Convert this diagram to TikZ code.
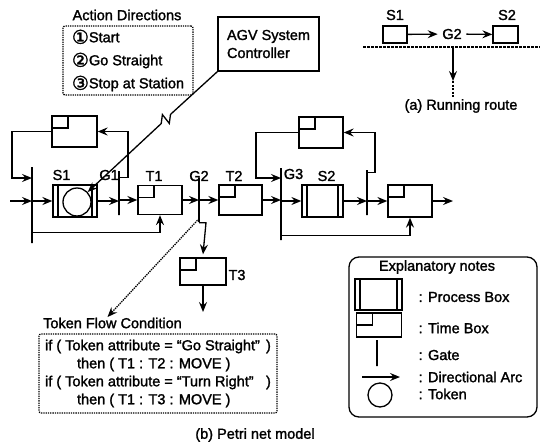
\documentclass[tikz,border=0pt]{standalone}
\usepackage{fontspec}
\setmainfont{Liberation Sans}[FakeBold=1.6]
\newfontfamily\dejavu{DejaVu Sans}[FakeBold=1.6]
\usetikzlibrary{arrows.meta}
\newcommand{\cnum}[1]{{\dejavu\fontsize{19pt}{23pt}\selectfont\raisebox{-1.5pt}{#1}}}
\begin{document}
\begin{tikzpicture}[x=1pt,y=-1pt,line width=1.3pt,
  font=\fontsize{14.5pt}{18pt}\selectfont,
  arc/.style={-{Stealth[length=10pt,width=8pt,inset=3.5pt]}},
  timebox/.style={draw,inner sep=0pt,minimum width=44pt,minimum height=30pt,
    path picture={\draw (path picture bounding box.north west) rectangle ++(16pt,-12pt);}},
  procbox/.style={draw,inner sep=0pt,minimum width=44pt,minimum height=32pt,
    path picture={\draw ([xshift=5pt]path picture bounding box.north west) -- ([xshift=5pt]path picture bounding box.south west)
      ([xshift=-5pt]path picture bounding box.north east) -- ([xshift=-5pt]path picture bounding box.south east);}},
  gate/.style={draw,inner sep=0pt,minimum width=0pt,minimum height=#1},
  lbl/.style={inner sep=0pt},
  dotbox/.style={draw,densely dotted,rounded corners=2pt,inner sep=0pt},
]
\useasboundingbox (0,0) rectangle (540,447);

% ---------- Action directions ----------
\node[lbl] (adt) at (127,15) {Action Directions};
\node[dotbox,minimum width=130pt,minimum height=69pt,align=left,
  font=\fontsize{14.5pt}{23pt}\selectfont] (ad) at (128,60.5)
  {\cnum{①}Start\\\cnum{②}Go Straight\\\cnum{③}Stop at Station};

% ---------- AGV controller ----------
\node[draw,minimum width=101pt,minimum height=54pt,inner sep=0pt,align=left] (agv) at (268.5,44)
  {AGV System\\Controller};

% ---------- (a) running route ----------
\node[lbl] (ra1l) at (395,15) {S1};
\node[draw,inner sep=0pt,minimum width=24pt,minimum height=17pt] (ra1) at (395,34.5) {};
\node[inner sep=4pt] (rg2) at (452,34) {G2};
\node[draw,inner sep=0pt,minimum width=25pt,minimum height=17pt] (ra2) at (505.5,34.5) {};
\node[lbl] (ra2l) at (507,15) {S2};
\draw[arc] (ra1) -- (rg2);
\draw[arc] (rg2) -- (ra2);
\coordinate (rl) at (363,47);
\coordinate (rr) at (540,47);
\coordinate (rj) at (453,47);
\coordinate (rk) at (453,81);
\coordinate (rd) at (453,97);
\draw[dash pattern=on 3pt off 1pt] (rl) -- (rr);
\draw[arc] (rj) -- (rk);
\draw[dash pattern=on 2pt off 1.5pt] (rk) -- (rd);
\node[lbl] (rac) at (461,106) {(a) Running route};

% ---------- Petri net main line ----------
\coordinate (in) at (10,201);
\coordinate (out) at (453,201);
\node[gate=76pt] (g0) at (32,205) {};
\node[procbox] (s1) at (75,201) {};
\node[circle,draw,minimum size=28pt,inner sep=0pt] (tok) at (77,202) {};
\node[gate=44pt] (g1) at (119,193) {};
\node[timebox,minimum height=29pt] (t1) at (160,200) {};
\node[gate=44pt] (g2) at (199,200) {};
\node[timebox,minimum width=43pt] (t2) at (240.5,200) {};
\node[gate=72pt] (g3) at (281,204) {};
\node[procbox,minimum width=41pt] (s2) at (322.5,201) {};
\node[gate=45pt] (g4) at (367,192.5) {};
\node[timebox,minimum height=32pt] (t4) at (410,201) {};
\node[timebox,minimum width=46pt,minimum height=27pt] (t3) at (203,271.5) {};

% loop boxes
\node[timebox,minimum width=45pt,minimum height=31pt] (l1) at (74.5,131.5) {};
\node[timebox,minimum height=31pt] (l2) at (321,132.5) {};

% labels
\node[lbl] (ls1) at (61.5,175) {S1};
\node[lbl] (lg1) at (109,175) {G1};
\node[lbl] (lt1) at (154,176) {T1};
\node[lbl] (lg2) at (199,176) {G2};
\node[lbl] (lt2) at (234,176) {T2};
\node[lbl] (lg3) at (293.5,174) {G3};
\node[lbl] (ls2) at (326.5,176) {S2};
\node[lbl] (lt3) at (237,275) {T3};

% main arcs
\draw[arc] (in) -- (in -| g0);
\draw[arc] (s1 -| g0) -- (s1);
\draw[arc] (s1) -- (s1 -| g1);
\draw[arc] (t1 -| g1) -- (t1);
\draw[arc] (t1) -- (t1 -| g2);
\draw[arc] (t2 -| g2) -- (t2);
\draw[arc] (t2) -- (t2 -| g3);
\draw[arc] (s2 -| g3) -- (s2);
\draw[arc] (s2) -- (s2 -| g4);
\draw[arc] (t4 -| g4) -- (t4);
\draw[arc] (t4) -- (out);

% loops
\coordinate (lp1) at (12,178);
\draw[arc] (l1.west) -| (lp1) -- (lp1 -| g0);
\draw[arc] ([yshift=-7pt]g1.north) -- ++(9pt,0) |- (l1.east);
\coordinate (lp2) at (256,178);
\draw[arc] (l2.west) -| (lp2) -- (lp2 -| g3);
\draw[arc] ([yshift=-3pt]g4.north) -- ++(8pt,0) |- (l2.east);

% bottom return lines
\draw[arc] ([yshift=11pt]g0.south) -| (t1.south);
\draw[arc] ([yshift=5pt]g3.south) -| (t4.south);

% branch to T3
\coordinate (t3o) at (203,312);
\draw[arc] (g2.south) -- ++(7pt,0) -- ([yshift=3pt]t3.north);
\draw[arc] (t3) -- (t3o);

% AGV link with break
\coordinate (za) at (170.5,114.4);
\coordinate (zb) at (169.3,123.4);
\coordinate (zc) at (162.4,114.6);
\coordinate (zd) at (161.2,123.6);
\draw[arc] (agv.south west) -- (za) -- (zb) -- (zc) -- (zd) -- (tok);

% ---------- Token flow condition ----------
\node[lbl] (tft) at (112.5,323) {Token Flow Condition};
\node[dotbox,minimum width=238pt,minimum height=79pt,align=left] (tfc) at (158,373.5)
  {\makebox[217pt][l]{if ( Token attribute = “Go Straight”} )\\
   \hspace*{32pt}then ( T1 : T2 : MOVE )\\
   \makebox[217pt][l]{if ( Token attribute = “Turn Right”} )\\
   \hspace*{32pt}then ( T1 : T3 : MOVE )};
\draw[densely dotted,arc] ([yshift=4pt]g2.south) -- ([xshift=-5pt]tft.north);

% ---------- Explanatory notes ----------
\node[draw,rounded corners=10pt,minimum width=188pt,minimum height=160pt] (en) at (443,337) {};
\node[lbl] (ent) at (437,267) {Explanatory notes};
\node[procbox,minimum width=47pt,minimum height=31pt] (ipb) at (378.5,294.5) {};
\node[timebox,minimum width=45pt,minimum height=24pt] (itb) at (379,325) {};
\node[gate=26pt] (ig) at (377,353) {};
\coordinate (ia1) at (362,377);
\coordinate (ia2) at (400,377);
\draw[arc] (ia1) -- (ia2);
\node[circle,draw,minimum size=24pt,inner sep=0pt] (itk) at (380,395) {};
\node[lbl,anchor=west] (epb) at (418,297) {: Process Box};
\node[lbl,anchor=west] (etb) at (418,328) {: Time Box};
\node[lbl,anchor=west] (eg) at (418,355) {: Gate};
\node[lbl,anchor=west] (ea) at (418,377) {: Directional Arc};
\node[lbl,anchor=west] (et) at (418,394) {: Token};

\node[lbl] (bcap) at (255,435) {(b) Petri net model};
\end{tikzpicture}
\end{document}
